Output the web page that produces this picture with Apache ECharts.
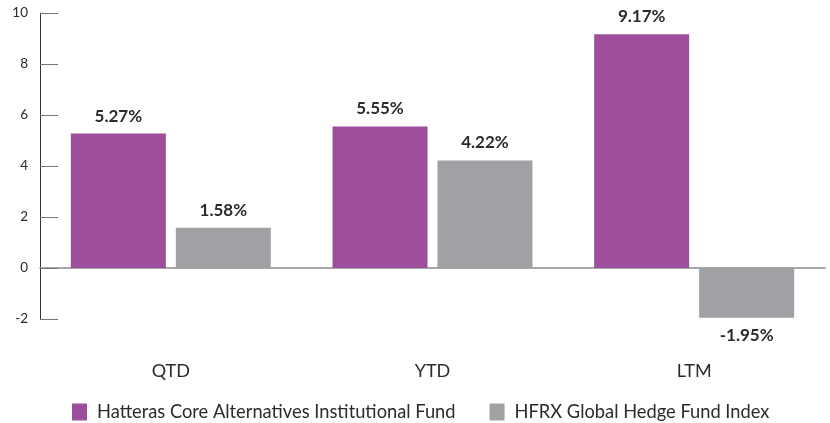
<!DOCTYPE html>
<html>
<head>
<meta charset="utf-8">
<script src="https://cdn.jsdelivr.net/npm/echarts@6/dist/echarts.min.js"></script>
<style>
  html, body { margin: 0; padding: 0; background: #fff; }
  #chart { width: 830px; height: 423px; }
</style>
</head>
<body>
<div id="chart"></div>
<script>
var periods = ['QTD', 'YTD', 'LTM'];
var fundValues = [5.27, 5.55, 9.17];
var indexValues = [1.58, 4.22, -1.95];
var seriesNames = ['Hatteras Core Alternatives Institutional Fund', 'HFRX Global Hedge Fund Index'];

(function () {
  var myChart = echarts.init(document.getElementById('chart'));

  function toItems(values) {
    return values.map(function (v) {
      return v < 0 ? { value: v, label: { position: 'bottom' } } : v;
    });
  }

  var barLabel = {
    show: true,
    position: 'top',
    distance: 9,
    fontFamily: 'Lato',
    fontWeight: 'bold',
    fontSize: 17,
    color: '#2b2b2b',
    formatter: function (p) { return p.value.toFixed(2) + '%'; }
  };

  var option = {
    animation: false,
    textStyle: { fontFamily: 'Lato' },
    color: ['#9e4f9c', '#a0a1a4'],
    grid: { left: 40, right: 5, top: 13, bottom: 104 },
    legend: {
      bottom: -3,
      left: 67,
      itemWidth: 15,
      itemHeight: 17,
      itemGap: 34,
      icon: 'rect',
      textStyle: { fontSize: 18.3, color: '#2b2b2b', fontFamily: 'Lato', padding: [0, 0, 0, 5] },
      data: seriesNames
    },
    xAxis: [
      {
        type: 'category',
        data: periods,
        position: 'bottom',
        axisLine: { onZero: true, lineStyle: { color: '#8a8a8a', width: 1.5 } },
        axisTick: { inside: true, length: 6, lineStyle: { color: '#444' } },
        axisLabel: { show: false }
      },
      {
        type: 'category',
        data: periods,
        position: 'bottom',
        axisLine: { show: false, onZero: false },
        axisTick: { show: false },
        axisLabel: { margin: 43, fontSize: 18, color: '#2b2b2b', fontFamily: 'Lato' }
      }
    ],
    yAxis: {
      type: 'value',
      min: -2,
      max: 10,
      interval: 2,
      axisLine: { show: true, lineStyle: { color: '#333', width: 1 } },
      axisTick: { show: true, inside: true, length: 18, lineStyle: { color: '#777' } },
      splitLine: { show: false },
      axisLabel: { margin: 12, fontSize: 13.5, color: '#2b2b2b', fontFamily: 'Lato' }
    },
    series: [
      {
        name: seriesNames[0],
        type: 'bar',
        xAxisIndex: 0,
        barWidth: 95,
        barGap: '10.5%',
        label: barLabel,
        data: toItems(fundValues)
      },
      {
        name: seriesNames[1],
        type: 'bar',
        xAxisIndex: 0,
        barWidth: 95,
        barGap: '10.5%',
        label: barLabel,
        data: toItems(indexValues)
      }
    ]
  };
  myChart.setOption(option);
})();
</script>
</body>
</html>
